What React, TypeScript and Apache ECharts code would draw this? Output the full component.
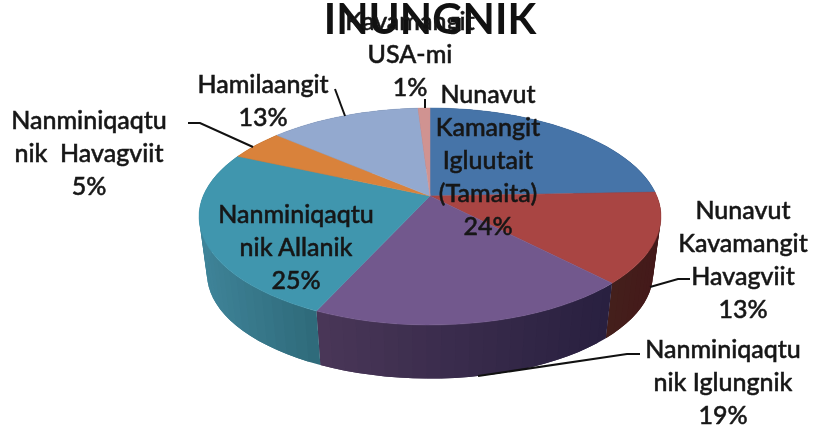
import React, { useEffect, useRef } from "react";
import * as echarts from "echarts";

const chartTitle = "INUNGNIK";
const sliceNames = [
  "Nunavut\nKamangit\nIgluutait\n(Tamaita)",
  "Nunavut\nKavamangit\nHavagviit",
  "Nanminiqaqtu\nnik Iglungnik",
  "Nanminiqaqtu\nnik Allanik",
  "Nanminiqaqtu\nnik  Havagviit",
  "Hamilaangit",
  "Kavamangit\nUSA-mi",
];
const sliceValues = [24.4, 13.4, 19.0, 24.9, 4.6, 12.7, 1.0];

const topColors = ["#4674a8", "#a94543", "#72588d", "#4096ae", "#d9823b", "#93a9cf", "#d09391"];
// wall colour at the slice's leftmost and rightmost x
const wallColors: [string, string][] = [
  ["#2b4a70", "#2b4a70"],
  ["#44201b", "#44191a"],
  ["#4a3758", "#292040"],
  ["#3f8499", "#2f6b7b"],
  ["#9a5a28", "#9a5a28"],
  ["#64748f", "#64748f"],
  ["#8f6362", "#8f6362"],
];

// label centre x, y of the first line
const labelLayout: [number, number][] = [
  [488, 92],
  [743, 208],
  [723, 347],
  [296, 212],
  [89, 118],
  [263, 82],
  [410, 19],
];
const leaderLines: number[][][] = [
  [[690, 279], [678, 279], [650, 287]],
  [[640, 354], [627, 354], [478, 376]],
  [[188, 123], [200, 123], [253, 147]],
  [[335, 89], [345, 116]],
  [[425, 99], [425, 108]],
];

const LABEL_FONT = "Lato, 'Open Sans', sans-serif";
const CX = 430;
const PERSP = 0.189;
const TOP = { y0: 196, a: 226.8, b: 104.6 };
const BOTTOM = { y0: 254, a: 219, b: 101 };

function project(p: { y0: number; a: number; b: number }, frac: number): number[] {
  const t = frac * Math.PI * 2;
  const u = Math.sin(t);
  const v = -Math.cos(t);
  const d = 1 - PERSP * v;
  return [CX + (p.a * u) / d, p.y0 + (p.b * v) / d];
}

export default function App() {
  const ref = useRef<HTMLDivElement>(null);
  useEffect(() => {
    document.body.style.margin = "0";
    document.body.style.background = "#fff";
    const chart = echarts.init(ref.current!, undefined, { renderer: "svg" });
    const total = sliceValues.reduce((a, b) => a + b, 0);
    const starts: number[] = [];
    sliceValues.reduce((acc, v, i) => {
      starts[i] = acc / total;
      return acc + v;
    }, 0);

    const rim = (p: typeof TOP, from: number, to: number) => {
      const n = Math.max(2, Math.ceil((to - from) * 120));
      const pts: number[][] = [];
      for (let i = 0; i <= n; i++) pts.push(project(p, from + ((to - from) * i) / n));
      return pts;
    };

    const seriesFor = (kind: "wall" | "top") => ({
      type: "custom",
      coordinateSystem: "none",
      silent: true,
      z: kind === "wall" ? 1 : 2,
      data: sliceValues.map((v, i) => ({ value: [v, i], name: sliceNames[i] })),
      renderItem: (_p: any, api: any) => {
        const i = api.value(1);
        const from = starts[i];
        const to = from + api.value(0) / total;
        if (kind === "top") {
          return {
            type: "polygon",
            shape: { points: [[CX, TOP.y0], ...rim(TOP, from, to)] },
            style: { fill: topColors[i], stroke: topColors[i], lineWidth: 0.5 },
          };
        }
        const a = rim(TOP, from, to);
        const b = rim(BOTTOM, from, to);
        const xs = a.map((p) => p[0]);
        const minX = Math.min(...xs);
        const spanX = Math.max(...xs) - minX || 1;
        // each band reaches over the next one, which then paints over it, so no seam shows
        const children = a.slice(0, -1).map((p, k) => {
          const mix = (p[0] - minX) / spanX;
          const end = Math.min(k + 2, a.length - 1);
          return {
            type: "polygon",
            shape: { points: [p, ...a.slice(k + 1, end + 1), ...b.slice(k, end + 1).reverse()] },
            style: { fill: echarts.color.lerp(mix, wallColors[i]) },
          };
        });
        return { type: "group", children };
      },
    });

    const labels = sliceNames.map((name, i) => ({
      type: "text",
      z: 20,
      x: labelLayout[i][0],
      y: labelLayout[i][1] - 16,
      style: {
        text: `${name}\n${Math.round((sliceValues[i] / total) * 100)}%`,
        font: `500 25px ${LABEL_FONT}`,
        fill: "#161616",
        stroke: "#161616",
        lineWidth: 0.5,
        align: "center",
        verticalAlign: "top",
        lineHeight: 33,
      },
    }));
    const leaders = leaderLines.map((points) => ({
      type: "polyline",
      z: 15,
      shape: { points },
      style: { stroke: "#111", lineWidth: 2, fill: "none" },
    }));

    chart.setOption({
      animation: false,
      backgroundColor: "#fff",
      title: {
        text: chartTitle,
        left: 430,
        top: 3,
        padding: 0,
        textAlign: "center",
        textStyle: { fontFamily: LABEL_FONT, fontSize: 42, fontWeight: "bold", color: "#111", lineHeight: 30 },
      },
      series: [seriesFor("wall"), seriesFor("top")],
      graphic: { elements: [...leaders, ...labels] },
    });
    return () => chart.dispose();
  }, []);
  return <div ref={ref} style={{ width: 815, height: 428, filter: "blur(0.4px)" }} />;
}
